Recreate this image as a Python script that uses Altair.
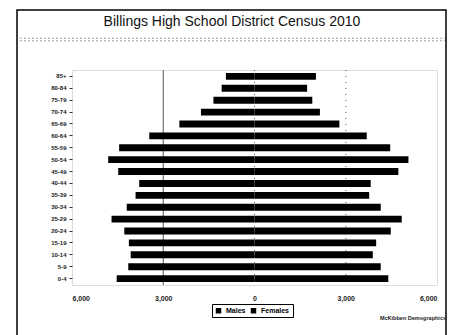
import altair as alt
import pandas as pd

ages = ["85+", "80-84", "75-79", "70-74", "65-69", "60-64", "55-59", "50-54", "45-49",
        "40-44", "35-39", "30-34", "25-29", "20-24", "15-19", "10-14", "5-9", "0-4"]
males = [940, 1080, 1350, 1760, 2470, 3460, 4450, 4810, 4480,
         3790, 3910, 4200, 4700, 4280, 4130, 4070, 4150, 4530]
females = [2020, 1730, 1900, 2150, 2790, 3690, 4460, 5060, 4730,
           3820, 3770, 4150, 4840, 4480, 4000, 3890, 4150, 4400]
ticks = [-6000, -3000, 0, 3000, 6000]
title = "Billings High School District Census 2010"

rows = []
for a, m, f in zip(ages, males, females):
    rows.append({"age": a, "sex": "Males", "v": -m})
    rows.append({"age": a, "sex": "Females", "v": f})
df = pd.DataFrame(rows)

W, H = 365, 215
L, T = 72, 70

xs = alt.X("v:Q", scale=alt.Scale(domain=[-6000, 6000], nice=False, zero=False),
           axis=alt.Axis(values=ticks, labelExpr="format(abs(datum.value), ',')",
                         grid=False, ticks=False, domain=False, title=None,
                         labelFontSize=7, labelFontWeight="bold", labelColor="#222",
                         labelPadding=9, labelFont="Liberation Sans"))

grid = pd.DataFrame({"v": [-3000, 0, 3000], "k": ["solid", "dot", "dot"]})
grid_solid = alt.Chart(grid[grid.k == "solid"]).mark_rule(color="#555", strokeWidth=1).encode(
    x=alt.X("v:Q", scale=alt.Scale(domain=[-6000, 6000], nice=False)))
grid_dot = alt.Chart(grid[grid.k == "dot"]).mark_rule(color="#666", strokeWidth=1, strokeDash=[1, 5]).encode(
    x=alt.X("v:Q", scale=alt.Scale(domain=[-6000, 6000], nice=False)))

bars = alt.Chart(df).mark_bar(color="black").encode(
    x=xs,
    x2=alt.datum(0),
    y=alt.Y("age:N", sort=ages, scale=alt.Scale(paddingInner=0.42, paddingOuter=0.25),
            axis=alt.Axis(title=None, labelFontSize=6, labelFontWeight="bold",
                          labelColor="#222", tickSize=3, tickColor="#333", domain=False,
                          labelPadding=3, labelFont="Liberation Sans")),
    color=alt.Color("sex:N", sort=["Males", "Females"],
                    scale=alt.Scale(domain=["Males", "Females"], range=["black", "black"]),
                    legend=alt.Legend(title=None, orient="none", legendX=140, legendY=234,
                                      direction="horizontal", strokeColor="black",
                                      padding=3, symbolType="square", symbolSize=30,
                                      labelFontSize=7, labelFontWeight="bold",
                                      columnPadding=4, labelFont="Liberation Sans")),
)

frame = alt.Chart(pd.DataFrame({"a": [0]})).mark_rect(fill=None, stroke="black", strokeWidth=1.5).encode(
    x=alt.value(17 - L), x2=alt.value(446 - L), y=alt.value(10 - T), y2=alt.value(345 - T))

noise = alt.Chart(pd.DataFrame({"a": [0, 1]})).mark_rule(color="#888", strokeWidth=0.8, strokeDash=[2, 2]).encode(
    x=alt.value(20 - L), x2=alt.value(445 - L),
    y=alt.Y("a:O", scale=alt.Scale(domain=[0, 1], range=[37 - T, 42 - T]), axis=None))

title_mark = alt.Chart(pd.DataFrame({"t": [title]})).mark_text(
    fontSize=14, color="#111", font="Liberation Sans", align="center", baseline="middle").encode(
    text="t:N", x=alt.value(232 - L), y=alt.value(22 - T))

credit = alt.Chart(pd.DataFrame({"t": ["McKibben Demographics"]})).mark_text(
    fontSize=5.5, fontWeight="bold", color="#222", font="Liberation Sans", align="right").encode(
    text="t:N", x=alt.value(446 - L), y=alt.value(318 - T))

chart = alt.layer(frame, noise, title_mark, grid_solid, grid_dot, bars, credit).properties(
    width=W, height=H,
    autosize=alt.AutoSizeParams(type="none"),
    padding={"left": L, "top": T, "right": 452 - L - W, "bottom": 335 - T - H},
).resolve_scale(y="independent").configure_view(stroke="black", strokeWidth=1).configure(background="white")

chart.save("out.html", embed_options={"renderer": "svg", "actions": False})
